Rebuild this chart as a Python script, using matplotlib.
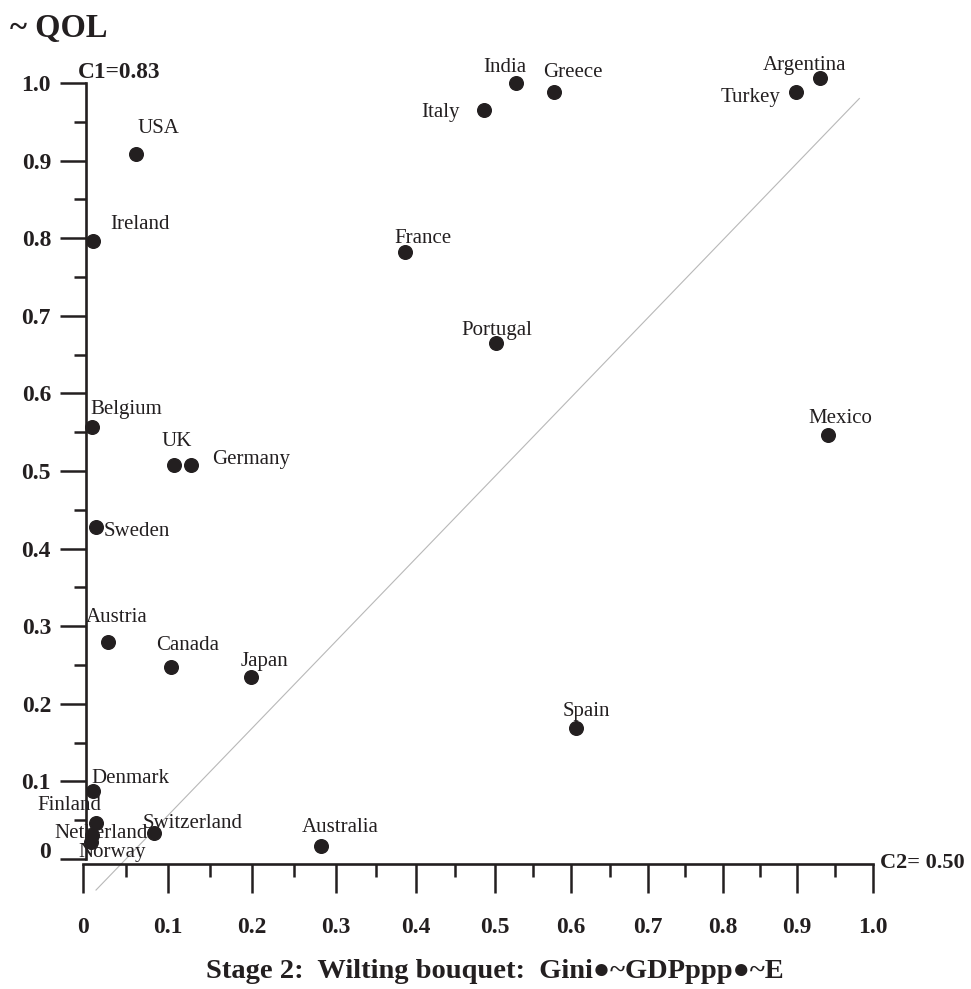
import numpy as np
import matplotlib
matplotlib.use("Agg")
import matplotlib.pyplot as plt
from matplotlib import transforms

# countries and their two coordinates (Gini-ish ~ x, QOL ~ y)
countries = ["USA", "Ireland", "Belgium", "UK", "Germany", "Sweden", "Austria",
             "Canada", "Japan", "Denmark", "Finland", "Netherland", "Norway",
             "Switzerland", "Australia", "Spain", "Mexico", "Portugal", "France",
             "Italy", "India", "Greece", "Argentina", "Turkey"]
x_vals = [0.062, 0.011, 0.010, 0.107, 0.127, 0.015, 0.029,
          0.104, 0.199, 0.012, 0.015, 0.010, 0.009,
          0.083, 0.282, 0.607, 0.941, 0.502, 0.386,
          0.486, 0.527, 0.578, 0.930, 0.899]
y_vals = [0.908, 0.797, 0.557, 0.508, 0.508, 0.428, 0.280,
          0.247, 0.234, 0.087, 0.046, 0.031, 0.022,
          0.033, 0.017, 0.169, 0.546, 0.665, 0.782,
          0.965, 1.000, 0.988, 1.007, 0.989]

# reference diagonal
diag_x = [0.015, 0.982]
diag_y = [-0.04, 0.98]

tick_vals = [0, 0.1, 0.2, 0.3, 0.4, 0.5, 0.6, 0.7, 0.8, 0.9, 1.0]
tick_labels = ["0", "0.1", "0.2", "0.3", "0.4", "0.5", "0.6", "0.7", "0.8", "0.9", "1.0"]
minor_vals = [0.05, 0.15, 0.25, 0.35, 0.45, 0.55, 0.65, 0.75, 0.85, 0.95]

# label offsets from each dot, in pixels (right, down)
label_offsets = [(23, -26), (47, -16), (34, -17), (3, -23), (60, -5), (41, 5), (9, -24),
                 (16, -22), (13, -16), (37, -13), (-27, -18), (9, -1), (21, 11),
                 (39, -10), (19, -18), (10, -16), (12, -17), (0, -12), (18, -14),
                 (-43, 2), (-11, -15), (19, -20), (-15, -12), (-46, 6)]

# the printed x axis is a bit squeezed towards the right end
x_frac = [0, 0.1073, 0.2136, 0.32, 0.4213, 0.5213, 0.6176, 0.7151, 0.81, 0.9038, 1.0]
xs = [-0.2] + tick_vals + [1.2]
fs = [-0.2146] + x_frac + [1.19]


def fwd(x):
    return np.interp(x, xs, fs)


def inv(f):
    return np.interp(f, fs, xs)


plt.rcParams['font.family'] = ['Liberation Serif', 'DejaVu Serif']
ink = '#231f20'

W, H = 971, 989
fig = plt.figure(figsize=(W / 100, H / 100), dpi=100)
ax = fig.add_axes([83.3 / W, 1 - 859 / H, 789.7 / W, 776 / H])
ax.set_xscale('function', functions=(fwd, inv))
ax.set_xlim(0, 1)
ax.set_ylim(0, 1)

ax.plot(diag_x, diag_y, color='#b8b8b8', lw=0.8, clip_on=False, zorder=1)
ax.plot(x_vals, y_vals, 'o', ms=9.8, color=ink, clip_on=False, zorder=3)

for name, x, y, (dx, dy) in zip(countries, x_vals, y_vals, label_offsets):
    ax.annotate(name, (x, y), xytext=(dx, -dy), textcoords='offset pixels',
                ha='center', va='center', fontsize=15, color=ink,
                annotation_clip=False)

for s in ['top', 'right']:
    ax.spines[s].set_visible(False)
ax.spines['left'].set_position(('outward', -2))
ax.spines['bottom'].set_position(('outward', 3.6))
ax.spines['left'].set_bounds(0, 1)
ax.spines['bottom'].set_bounds(0, 1)
for s in ['left', 'bottom']:
    ax.spines[s].set_linewidth(1.9)
    ax.spines[s].set_color(ink)

ax.set_xticks(tick_vals, tick_labels)
ax.set_yticks(tick_vals, tick_labels)
ax.set_xticks(minor_vals, minor=True)
ax.set_yticks(minor_vals, minor=True)
ax.tick_params(axis='both', which='both', direction='out', width=1.8, color=ink,
               labelsize=17, labelcolor=ink)
ax.tick_params(axis='y', which='major', length=18.7, pad=6.5)
ax.tick_params(axis='y', which='minor', length=8.6)
ax.tick_params(axis='x', which='major', length=20.9, pad=17)
ax.tick_params(axis='x', which='minor', length=9.1)
for lbl in ax.get_xticklabels() + ax.get_yticklabels():
    lbl.set_fontweight('bold')

# the "0" on the y axis sits a little above its tick
zero = ax.yaxis.get_major_ticks()[0].label1
zero.set_transform(zero.get_transform() +
                   transforms.ScaledTranslation(0, 0.09, fig.dpi_scale_trans))

fig.text(10 / W, 1 - 37.5 / H, "~ QOL", fontsize=23.5, fontweight='bold',
         color=ink, ha='left', va='baseline')
fig.text(78 / W, 1 - 78 / H, "C1=0.83", fontsize=16.8, fontweight='bold',
         color=ink, ha='left', va='baseline')
fig.text(880 / W, 1 - 868 / H, "C2= 0.50", fontsize=16, fontweight='bold',
         color=ink, ha='left', va='baseline')
fig.text(494.5 / W, 1 - 978 / H, "Stage 2:  Wilting bouquet:  Gini●~GDPppp●~E",
         fontsize=20.5, fontweight='bold', color=ink, ha='center', va='baseline')

fig.savefig('out.png', dpi=100)
